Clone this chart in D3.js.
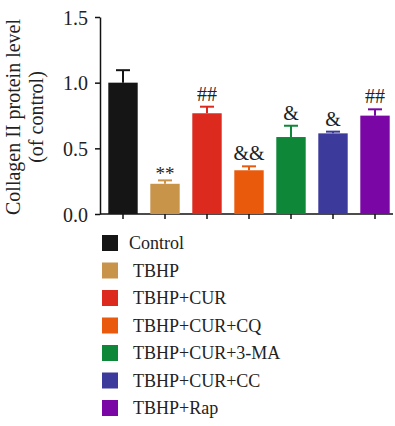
<!DOCTYPE html>
<meta charset="utf-8">
<style>
body { margin: 0; background: #fff; }
svg text { font-family: "Liberation Serif", "DejaVu Serif", serif !important; fill: #222; }
.axis path, .axis line { stroke: #111; stroke-width: 1.5px; }
</style>
<svg id="chart" width="395" height="426"></svg>
<script src="https://cdn.jsdelivr.net/npm/d3@7"></script>
<script>
var groups = ["Control", "TBHP", "TBHP+CUR", "TBHP+CUR+CQ", "TBHP+CUR+3-MA", "TBHP+CUR+CC", "TBHP+Rap"];
var means = [1.0, 0.23, 0.767, 0.333, 0.586, 0.614, 0.749];
var errs = [0.095, 0.026, 0.05, 0.03, 0.086, 0.013, 0.048];
var marks = ["", "**", "##", "&&", "&", "&", "##"];
var colors = ["#151515", "#c8944a", "#dc2a1e", "#ea5a0c", "#0e8738", "#3c3a9a", "#7a07a5"];
var yTicks = [0.0, 0.5, 1.0, 1.5];

var svg = d3.select("#chart");

var x = d3.scaleBand()
    .domain(groups)
    .range([102, 396])
    .paddingInner(0.3)
    .paddingOuter(0.15);
var y = d3.scaleLinear()
    .domain([0, 1.5])
    .range([214, 17]);

// y axis
var ya = svg.append("g")
    .attr("class", "axis")
    .attr("transform", "translate(100,0)")
    .call(d3.axisLeft(y).tickValues(yTicks).tickFormat(d3.format(".1f")).tickSize(5).tickSizeOuter(0));
ya.attr("font-family", null);
ya.selectAll("text").attr("font-size", 20).attr("x", -12).attr("dy", "0.35em");

// x axis
var xa = svg.append("g")
    .attr("class", "axis")
    .attr("transform", "translate(0,214)")
    .call(d3.axisBottom(x).tickFormat("").tickSize(5).tickSizeOuter(0));
xa.select(".domain").attr("d", "M100,0H393");

// bars
svg.selectAll(".bar")
  .data(groups)
  .enter().append("rect")
    .attr("class", "bar")
    .attr("x", function(d) { return x(d); })
    .attr("width", x.bandwidth())
    .attr("y", function(d, i) { return y(means[i]); })
    .attr("height", function(d, i) { return y(0) - y(means[i]); })
    .attr("fill", function(d, i) { return colors[i]; });

// error bars
var eb = svg.selectAll(".err")
  .data(groups)
  .enter().append("g")
    .attr("class", "err")
    .attr("stroke", function(d, i) { return colors[i]; })
    .attr("stroke-width", 2);
eb.append("line")
    .attr("x1", function(d) { return x(d) + x.bandwidth() / 2; })
    .attr("x2", function(d) { return x(d) + x.bandwidth() / 2; })
    .attr("y1", function(d, i) { return y(means[i]); })
    .attr("y2", function(d, i) { return y(means[i] + errs[i]); });
eb.append("line")
    .attr("x1", function(d) { return x(d) + x.bandwidth() / 2 - 7; })
    .attr("x2", function(d) { return x(d) + x.bandwidth() / 2 + 7; })
    .attr("y1", function(d, i) { return y(means[i] + errs[i]); })
    .attr("y2", function(d, i) { return y(means[i] + errs[i]); });

// significance marks
svg.selectAll(".mark")
  .data(groups)
  .enter().append("text")
    .attr("class", "mark")
    .attr("x", function(d) { return x(d) + x.bandwidth() / 2; })
    .attr("y", function(d, i) { return y(means[i] + errs[i]) - (marks[i] == "**" ? 0 : 6); })
    .attr("text-anchor", "middle")
    .attr("font-size", function(d, i) { return marks[i] == "**" ? 19 : 20; })
    .text(function(d, i) { return marks[i]; });

// y label
var yl = svg.append("text")
    .attr("transform", "translate(28,117) rotate(-90)")
    .attr("text-anchor", "middle")
    .attr("font-size", 20);
yl.append("tspan").attr("x", 0).attr("dy", "-0.4em").text("Collagen II protein level");
yl.append("tspan").attr("x", 0).attr("dy", "1.15em").text("(of control)");

// legend
var lg = svg.selectAll(".leg")
  .data(groups)
  .enter().append("g")
    .attr("class", "leg")
    .attr("transform", function(d, i) { return "translate(102," + (243 + i * 27.5) + ")"; });
lg.append("rect")
    .attr("y", -8)
    .attr("width", 16)
    .attr("height", 16)
    .attr("fill", function(d, i) { return colors[i]; });
lg.append("text")
    .attr("x", function(d, i) { return i == 0 ? 27 : 31; })
    .attr("y", 6)
    .attr("font-size", 18)
    .text(function(d) { return d; });
</script>
